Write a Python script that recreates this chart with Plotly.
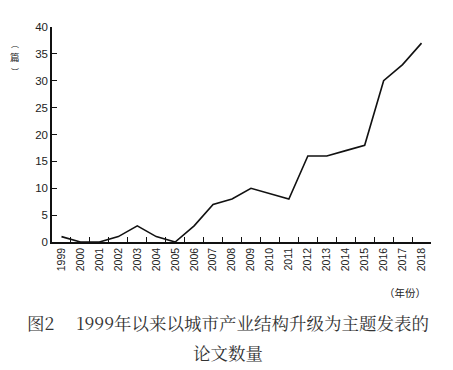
import plotly.graph_objects as go

years = [str(y) for y in range(1999, 2019)]
counts = [1, 0, 0, 1, 3, 1, 0, 3, 7, 8, 10, 9, 8, 16, 16, 17, 18, 30, 33, 37]
y_ticks = [0, 5, 10, 15, 20, 25, 30, 35, 40]

OFF = 8  # browser default body margin
L, T, R, B = 52 - OFF, 27 - OFF, 453 - 431 + OFF, 370 - 242 + OFF

fig = go.Figure()
fig.add_trace(go.Scatter(x=years, y=counts, mode="lines",
                         line=dict(color="#111111", width=1.6), showlegend=False))

fig.update_layout(
    width=453, height=370,
    margin=dict(l=L, r=R, t=T, b=B),
    paper_bgcolor="white", plot_bgcolor="white",
    font=dict(family="Liberation Sans, Arial, sans-serif", color="#222222"),
    xaxis=dict(type="category", tickson="boundaries", ticks="inside", ticklen=5,
               tickcolor="#111111", showline=True, linecolor="#111111", linewidth=1.5,
               showgrid=False, tickangle=-90, tickfont=dict(size=10.5),
               range=[-0.5, 19.5]),
    yaxis=dict(range=[0, 40], tickvals=y_ticks, ticks="inside", ticklen=5,
               tickcolor="#111111", showline=True, linecolor="#111111", linewidth=1.5,
               showgrid=False, zeroline=False, tickfont=dict(size=11.5)),
)

sans = "Noto Sans CJK SC"
cjk = "Noto Serif CJK SC, Noto Sans CJK SC"
fig.add_annotation(text="︵", x=15, y=43, showarrow=False, font=dict(family=sans, size=8))
fig.add_annotation(text="篇", x=15, y=57, showarrow=False, font=dict(family=sans, size=9.5))
fig.add_annotation(text="︶", x=15, y=71, showarrow=False, font=dict(family=sans, size=8))
fig.add_annotation(text="（年份）", x=405, y=292, showarrow=False,
                   font=dict(family=sans, size=10.5))
fig.add_annotation(text="图2　 1999年以来以城市产业结构升级为主题发表的", x=228, y=322,
                   showarrow=False, font=dict(family=cjk, size=17.5, color="#333333"))
fig.add_annotation(text="论文数量", x=228, y=352, showarrow=False,
                   font=dict(family=cjk, size=17.5, color="#333333"))

# convert page pixel positions into paper coordinates
pw, ph = 453 - L - R, 370 - T - B
for a in fig.layout.annotations:
    px, py = a.x - OFF, a.y - OFF
    a.x = (px - L) / pw
    a.y = 1 - (py - T) / ph
    a.xref = "paper"
    a.yref = "paper"
    a.xanchor = "center"
    a.yanchor = "middle"

fig.write_html("out.html")
